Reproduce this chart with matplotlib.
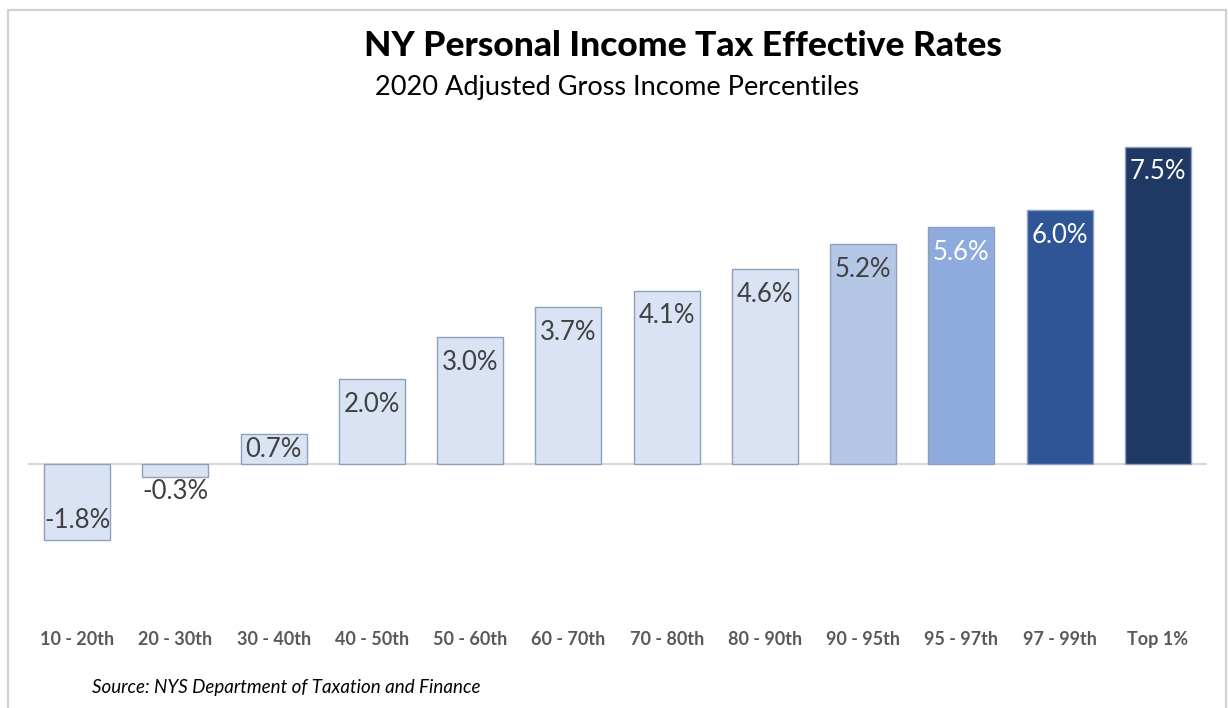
import matplotlib
matplotlib.use("Agg")
import matplotlib.pyplot as plt
from matplotlib.lines import Line2D

categories = ["10 - 20th", "20 - 30th", "30 - 40th", "40 - 50th", "50 - 60th",
              "60 - 70th", "70 - 80th", "80 - 90th", "90 - 95th", "95 - 97th",
              "97 - 99th", "Top 1%"]
rates = [-1.8, -0.3, 0.7, 2.0, 3.0, 3.7, 4.1, 4.6, 5.2, 5.6, 6.0, 7.5]
labels = ["-1.8%", "-0.3%", "0.7%", "2.0%", "3.0%", "3.7%", "4.1%", "4.6%",
          "5.2%", "5.6%", "6.0%", "7.5%"]
bar_colors = ["#dae3f3"] * 8 + ["#b4c7e7", "#8faadc", "#2f5597", "#203864"]
label_colors = ["#404040"] * 9 + ["white", "white", "white"]

W, H = 1228, 708
fig = plt.figure(figsize=(W / 100, H / 100), dpi=100)
fig.patch.set_facecolor("white")

# axes placement in pixels
x0, x1 = 28, 1207
ytop, ybot = 130, 600
ax = fig.add_axes([x0 / W, 1 - ybot / H, (x1 - x0) / W, (ybot - ytop) / H])
zero_px = 464
ppu = 42.3
ax.set_ylim(-(ybot - zero_px) / ppu, (zero_px - ytop) / ppu)
ax.set_xlim(-0.5, len(categories) - 0.5)

xs = range(len(categories))
bars = ax.bar(xs, rates, width=0.67, color=bar_colors, edgecolor="#8da0bd",
              linewidth=1.0, zorder=3)
ax.axhline(0, color="#d9d9d9", linewidth=1.5, zorder=2)

for sp in ax.spines.values():
    sp.set_visible(False)
ax.set_yticks([])
ax.set_xticks(list(xs))
ax.set_xticklabels(categories, fontsize=13, color="#595959",
                   family="Lato", fontweight="bold")
ax.tick_params(axis="x", length=0, pad=22)

# data labels
for i, (v, lab, c) in enumerate(zip(rates, labels, label_colors)):
    barlen_px = abs(v) * ppu
    if v >= 0:
        off = min(25, barlen_px / 2)
        ax.annotate(lab, (i, v), xytext=(0, -off * 0.72), textcoords="offset points",
                    ha="center", va="center", fontsize=18.5, color=c,
                    family="Lato", zorder=5)
    else:
        if barlen_px > 40:
            off = 20
        else:
            off = -15
        ax.annotate(lab, (i, v), xytext=(0, off * 0.72), textcoords="offset points",
                    ha="center", va="center", fontsize=18.5, color=c,
                    family="Lato", zorder=5)

fig.text(683 / W, 1 - 46 / H, "NY Personal Income Tax Effective Rates",
         ha="center", va="center", fontsize=25.5, fontweight="black",
         family="Lato", color="black")
fig.text(617 / W, 1 - 87 / H, "2020 Adjusted Gross Income Percentiles",
         ha="center", va="center", fontsize=19.5, family="Lato", color="black")
fig.text(92 / W, 1 - 687 / H, "Source: NYS Department of Taxation and Finance",
         ha="left", va="center", fontsize=13.5, family="Lato", style="italic",
         color="black")

# figure frame (left, top, right)
bc = "#d0d0d0"
fig.add_artist(Line2D([8 / W, 8 / W], [0, 1 - 10 / H], transform=fig.transFigure, color=bc, lw=1.5))
fig.add_artist(Line2D([8 / W, 1226 / W], [1 - 10 / H, 1 - 10 / H], transform=fig.transFigure, color=bc, lw=1.5))
fig.add_artist(Line2D([1226 / W, 1226 / W], [0, 1 - 10 / H], transform=fig.transFigure, color=bc, lw=1.5))

fig.savefig("out.png", dpi=100)
